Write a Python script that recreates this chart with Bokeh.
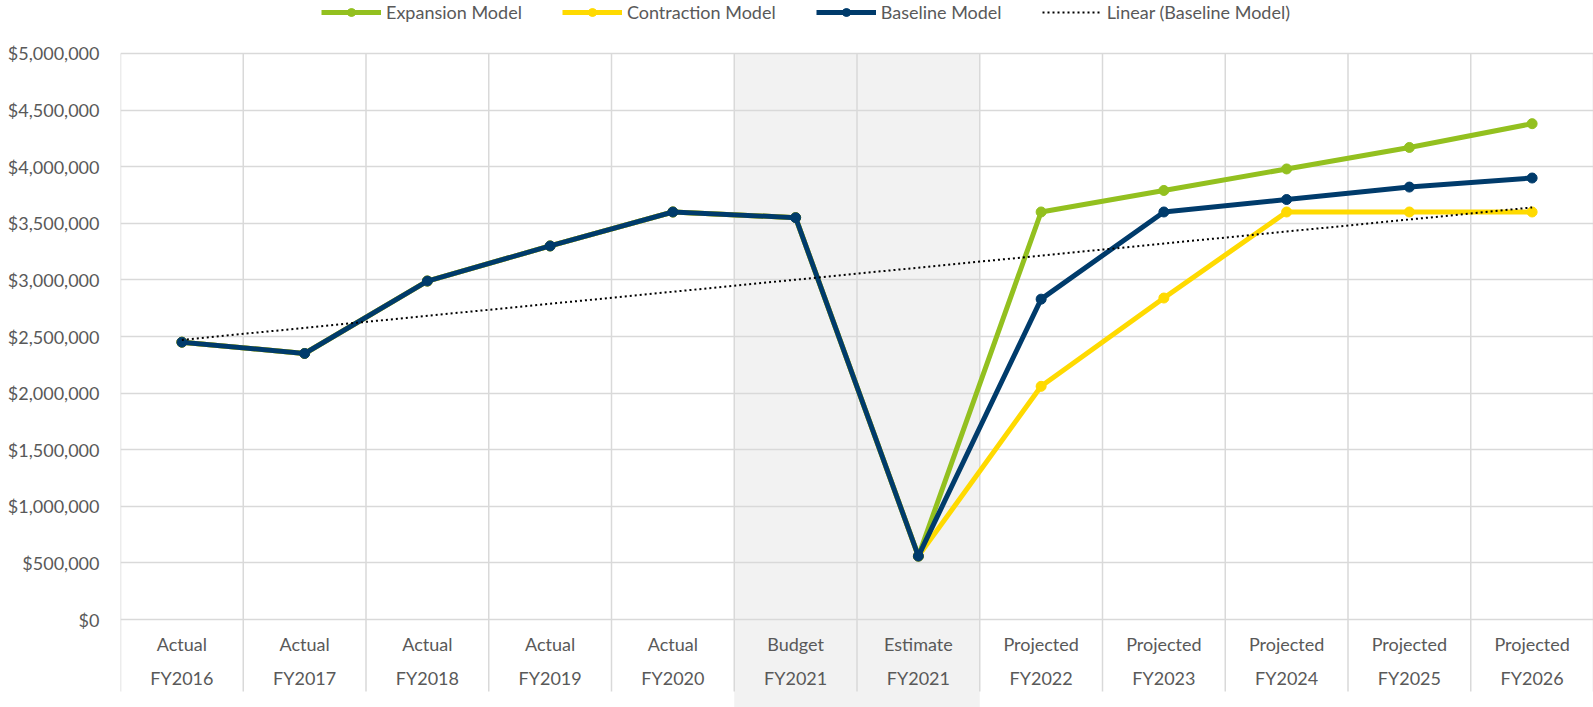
import numpy as np
from bokeh.plotting import figure
from bokeh.models import (FixedTicker, NumeralTickFormatter, BoxAnnotation,
                          Legend, LegendItem, Range1d)
from bokeh.core.properties import value
from bokeh.embed import file_html
from bokeh.resources import INLINE

# ---------------- data ----------------
stages = ["Actual", "Actual", "Actual", "Actual", "Actual", "Budget", "Estimate",
          "Projected", "Projected", "Projected", "Projected", "Projected"]
years = ["FY2016", "FY2017", "FY2018", "FY2019", "FY2020", "FY2021", "FY2021",
         "FY2022", "FY2023", "FY2024", "FY2025", "FY2026"]
baseline = [2450000, 2350000, 2990000, 3300000, 3600000, 3550000, 560000,
            2830000, 3600000, 3710000, 3820000, 3900000]
expansion = [2450000, 2350000, 2990000, 3300000, 3600000, 3550000, 560000,
             3600000, 3790000, 3980000, 4170000, 4380000]
contraction = [2450000, 2350000, 2990000, 3300000, 3600000, 3550000, 560000,
               2060000, 2840000, 3600000, 3600000, 3600000]
y_ticks = [0, 500000, 1000000, 1500000, 2000000, 2500000, 3000000,
           3500000, 4000000, 4500000, 5000000]
shaded_categories = ["Budget", "Estimate"]

# ---------------- style ----------------
GREEN = "#93C01F"
YELLOW = "#FFDA00"
NAVY = "#003B6B"
GRID = "#D9D9D9"
BAND = "#F2F2F2"
TEXT = "#595959"
FONT = "Lato"
FSIZE = "18px"

n = len(years)
x = np.arange(n) + 0.5
bounds = np.arange(n + 1)

Y_START, Y_END = -777000, 5468000
GRID_BOTTOM = -636000

p = figure(width=1593, height=707, x_range=Range1d(0, n),
           y_range=Range1d(Y_START, Y_END), x_axis_location=None,
           y_axis_location="left", output_backend="svg", toolbar_location=None,
           min_border_left=120, min_border_right=0, min_border_top=0,
           min_border_bottom=0)
p.outline_line_color = None
p.background_fill_color = "white"
p.border_fill_color = "white"

# y axis
ax = p.yaxis[0]
ax.ticker = FixedTicker(ticks=y_ticks)
ax.formatter = NumeralTickFormatter(format="$0,0")
ax.axis_line_color = None
ax.major_tick_line_color = None
ax.minor_tick_line_color = None
ax.major_label_standoff = 15
ax.major_label_text_font = FONT
ax.major_label_text_font_size = FSIZE
ax.major_label_text_color = TEXT

# grids
p.xgrid.grid_line_color = None
p.ygrid.ticker = FixedTicker(ticks=y_ticks)
p.ygrid.grid_line_color = GRID
p.ygrid.grid_line_width = 1.5

# shaded band for Budget / Estimate
idx = [i for i, s in enumerate(stages) if s in shaded_categories]
band = BoxAnnotation(left=min(idx), right=max(idx) + 1, top=max(y_ticks),
                     fill_color=BAND, fill_alpha=1.0, line_color=None,
                     level="image")
p.add_layout(band)

# vertical category separators
p.segment(x0=bounds, y0=[max(y_ticks)] * (n + 1), x1=bounds,
          y1=[GRID_BOTTOM] * (n + 1), line_color=GRID, line_width=1.5,
          level="underlay")

# category labels (two levels)
p.text(x=x, y=[0] * n, text=stages, y_offset=24, text_align="center",
       text_baseline="middle", text_font=value(FONT), text_font_size=FSIZE,
       text_color=TEXT)
p.text(x=x, y=[0] * n, text=years, y_offset=58, text_align="center",
       text_baseline="middle", text_font=value(FONT), text_font_size=FSIZE,
       text_color=TEXT)

# series
le = p.line(x, expansion, line_color=GREEN, line_width=5, line_join="round")
se = p.scatter(x, expansion, size=10, color=GREEN)
lc = p.line(x, contraction, line_color=YELLOW, line_width=5, line_join="round")
sc = p.scatter(x, contraction, size=10, color=YELLOW)
lb = p.line(x, baseline, line_color=NAVY, line_width=5, line_join="round")
sb = p.scatter(x, baseline, size=10, color=NAVY)

# linear trendline of baseline (least squares, like Excel)
k = np.arange(1, n + 1)
slope, intercept = np.polyfit(k, baseline, 1)
trend_x = [x[0], x[-1]]
trend_y = [slope * k[0] + intercept, slope * k[-1] + intercept]
lt = p.line(trend_x, trend_y, line_color="black", line_width=2,
            line_dash="2 3")

legend = Legend(items=[
    LegendItem(label="Expansion Model", renderers=[le, se]),
    LegendItem(label="Contraction Model", renderers=[lc, sc]),
    LegendItem(label="Baseline Model", renderers=[lb, sb]),
    LegendItem(label="Linear (Baseline Model)", renderers=[lt]),
], orientation="horizontal", location=(201, 684), border_line_color=None,
    background_fill_alpha=0, glyph_width=60, glyph_height=20,
    label_standoff=5, spacing=40, padding=0, margin=0,
    label_text_font=FONT, label_text_font_size=FSIZE,
    label_text_color=TEXT)
p.add_layout(legend)

open("out.html", "w").write(file_html(p, INLINE))
